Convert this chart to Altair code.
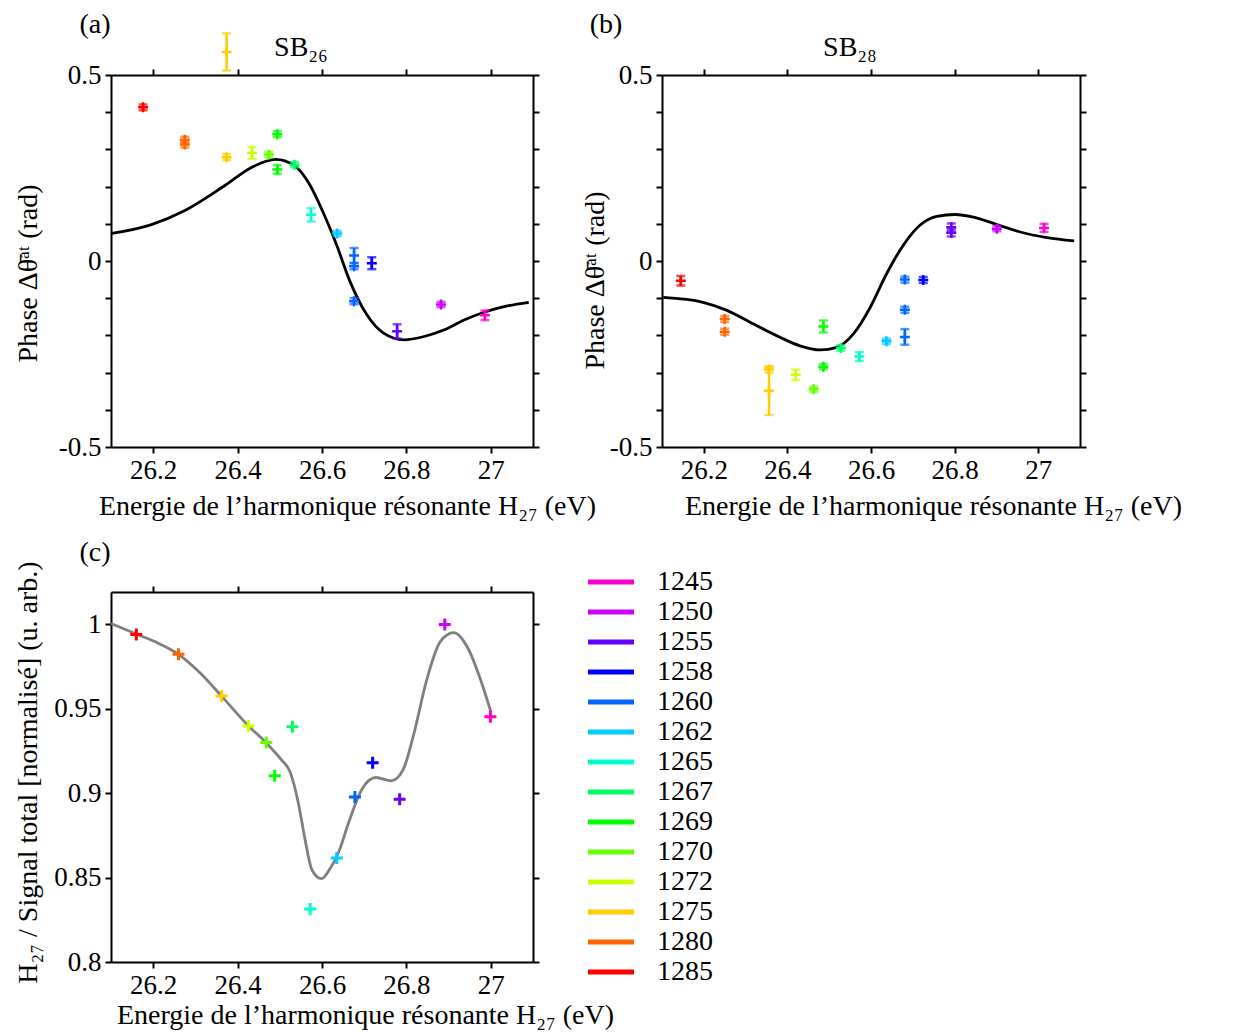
import altair as alt
import pandas as pd

FONT = "Liberation Serif"

LABELS = ["1245", "1250", "1255", "1258", "1260", "1262", "1265",
          "1267", "1269", "1270", "1272", "1275", "1280", "1285"]
COLORS = ["#ff00cc", "#cc00ff", "#6600ff", "#0000ff", "#0066ff", "#00ccff", "#00ffcc",
          "#00ff66", "#00ff00", "#66ff00", "#ccff00", "#ffcc00", "#ff6600", "#ff0000"]

# ---- panel (a): SB26 ----
a_lab = ["1285", "1280", "1280", "1275", "1275", "1272", "1270", "1269", "1269", "1267",
         "1265", "1262", "1260", "1260", "1260", "1258", "1255", "1250", "1245"]
a_E = [26.176, 26.275, 26.275, 26.374, 26.374, 26.434, 26.474, 26.494, 26.494, 26.535,
       26.574, 26.636, 26.676, 26.676, 26.676, 26.718, 26.778, 26.882, 26.986]
a_ph = [0.413, 0.326, 0.313, 0.279, 0.562, 0.290, 0.286, 0.341, 0.246, 0.259,
        0.124, 0.074, 0.015, -0.014, -0.108, -0.006, -0.189, -0.117, -0.146]
a_err = [0.008, 0.008, 0.008, 0.008, 0.050, 0.016, 0.007, 0.008, 0.012, 0.007,
         0.018, 0.007, 0.020, 0.008, 0.008, 0.016, 0.019, 0.007, 0.013]

a_curve_E = [26.102, 26.194, 26.274, 26.37, 26.434, 26.49, 26.534, 26.57, 26.601, 26.634,
             26.666, 26.706, 26.746, 26.794, 26.842, 26.89, 26.938, 26.986, 27.034, 27.09]
a_curve_ph = [0.074, 0.097, 0.135, 0.203, 0.252, 0.273, 0.257, 0.207, 0.135, 0.045,
              -0.054, -0.144, -0.194, -0.212, -0.203, -0.185, -0.158, -0.137, -0.122, -0.111]

# ---- panel (b): SB28 ----
b_lab = ["1285", "1280", "1280", "1275", "1275", "1272", "1270", "1269", "1269", "1267",
         "1265", "1262", "1260", "1260", "1260", "1258", "1255", "1255", "1250", "1245"]
b_E = [26.145, 26.25, 26.25, 26.356, 26.356, 26.42, 26.463, 26.486, 26.486, 26.528,
       26.572, 26.637, 26.681, 26.681, 26.681, 26.725, 26.792, 26.792, 26.901, 27.014]
b_ph = [-0.053, -0.156, -0.190, -0.292, -0.349, -0.306, -0.345, -0.176, -0.284, -0.234,
        -0.257, -0.216, -0.050, -0.131, -0.204, -0.051, 0.091, 0.076, 0.087, 0.089]
b_err = [0.013, 0.008, 0.008, 0.008, 0.065, 0.014, 0.007, 0.016, 0.007, 0.007,
         0.012, 0.007, 0.008, 0.008, 0.021, 0.008, 0.010, 0.010, 0.007, 0.011]

b_curve_E = [26.103, 26.198, 26.254, 26.318, 26.382, 26.43, 26.478, 26.518, 26.558, 26.598,
             26.637, 26.677, 26.717, 26.757, 26.801, 26.845, 26.901, 26.957, 27.021, 27.086]
b_curve_ph = [-0.098, -0.111, -0.132, -0.169, -0.205, -0.228, -0.239, -0.232, -0.196, -0.125,
              -0.035, 0.042, 0.096, 0.120, 0.125, 0.118, 0.098, 0.078, 0.063, 0.054]

# ---- panel (c): H27 / total signal ----
c_lab = ["1285", "1280", "1275", "1272", "1270", "1269", "1267",
         "1265", "1262", "1260", "1258", "1255", "1250", "1245"]
c_E = [26.16, 26.26, 26.362, 26.426, 26.468, 26.488, 26.53,
       26.572, 26.635, 26.678, 26.72, 26.784, 26.891, 26.999]
c_val = [0.9939, 0.9821, 0.9574, 0.9397, 0.9299, 0.9102, 0.9393,
         0.8314, 0.8615, 0.8976, 0.918, 0.8964, 0.9998, 0.9452]

c_curve_E = [26.1, 26.16, 26.208, 26.26, 26.312, 26.362, 26.426, 26.468, 26.504, 26.524,
             26.544, 26.56, 26.576, 26.599, 26.62, 26.64, 26.664, 26.696, 26.728, 26.764,
             26.792, 26.816, 26.848, 26.88, 26.912, 26.944, 26.976, 27.0]
c_curve_val = [1.0004, 0.9941, 0.9892, 0.9821, 0.9709, 0.9574, 0.9397, 0.9297, 0.9196, 0.9127,
               0.894, 0.8723, 0.8546, 0.8493, 0.8556, 0.8654, 0.8832, 0.9029, 0.9092, 0.9072,
               0.9137, 0.9334, 0.9669, 0.9895, 0.9949, 0.9866, 0.9669, 0.9482]

X_TICKS = [26.2, 26.4, 26.6, 26.8, 27.0]
Y_TICKS_AB = [-0.5, -0.4, -0.3, -0.2, -0.1, 0.0, 0.1, 0.2, 0.3, 0.4, 0.5]
Y_TICKS_C = [0.8, 0.85, 0.9, 0.95, 1.0]

X_TITLE = "Energie de l\u2019harmonique r\u00e9sonante H\u2082\u2087 (eV)"
Y_TITLE_AB = "Phase \u0394\u03b8\u0304\u1d43\u1d57 (rad)"
Y_TITLE_C = "H\u2082\u2087 / Signal total [normalis\u00e9] (u. arb.)"

PLUS = "M -1 0 L 1 0 M 0 -1 L 0 1"
LEGEND_LINE = "M -2.3 0 L 2.3 0"
W1, W2, H = 422, 418, 372
HC = 370

xs = alt.Scale(domain=[26.1, 27.1], nice=False, zero=False)
cs = alt.Scale(domain=LABELS, range=COLORS)

AXIS_STYLE = dict(domainColor="black", domainWidth=2, tickColor="black", tickWidth=2,
                  tickSize=6, labelFont=FONT, labelFontSize=27, labelColor="black",
                  titleFont=FONT, titleFontSize=28, titleColor="black",
                  titleFontWeight="normal", grid=False)

Y_LABEL_EXPR = ("abs(datum.value-0.5)<1e-6 ? '0.5' : abs(datum.value)<1e-6 ? '0' : "
                "abs(datum.value+0.5)<1e-6 ? '-0.5' : ''")


def text_layer(txt, px, py, size=28):
    return alt.Chart(pd.DataFrame({"t": [txt]})).mark_text(
        font=FONT, fontSize=size, align="center", baseline="middle", color="black"
    ).encode(text="t:N", x=alt.value(px), y=alt.value(py))


def phase_panel(lab, E, ph, err, cE, cph, letter, sb, width, ytx, yty, xtx):
    ys = alt.Scale(domain=[-0.5, 0.5], nice=False, zero=False)
    pts = pd.DataFrame({"lab": lab, "E": E, "ph": ph, "err": err})
    pts["lo"] = pts["ph"] - pts["err"]
    pts["hi"] = pts["ph"] + pts["err"]
    cur = pd.DataFrame({"E": cE, "ph": cph})

    curve = alt.Chart(cur).mark_line(color="black", strokeWidth=2.8, interpolate="monotone").encode(
        x=alt.X("E:Q", scale=xs, axis=alt.Axis(values=X_TICKS, format="~g", title=X_TITLE,
                                                titleX=xtx, titleY=59, titleAlign="center",
                                                titleBaseline="middle", labelPadding=4, **AXIS_STYLE)),
        y=alt.Y("ph:Q", scale=ys, axis=alt.Axis(values=Y_TICKS_AB, labelExpr=Y_LABEL_EXPR,
                                                 title=Y_TITLE_AB, titleX=ytx, titleY=yty,
                                                 titleAngle=270, titleAlign="center",
                                                 titleBaseline="middle", labelPadding=4,
                                                 **AXIS_STYLE)),
    )
    bars = alt.Chart(pts).mark_errorbar(ticks=True, size=9, thickness=2.5).encode(
        x=alt.X("E:Q", scale=xs, axis=None),
        y=alt.Y("lo:Q", scale=ys, axis=None),
        y2="hi:Q",
        color=alt.Color("lab:N", scale=cs, legend=None),
    )
    marks = alt.Chart(pts).mark_point(shape=PLUS, filled=False, strokeWidth=2.5, size=100, opacity=1).encode(
        x=alt.X("E:Q", scale=xs, axis=alt.Axis(orient="top", values=X_TICKS, labels=False,
                                                title=None, **AXIS_STYLE)),
        y=alt.Y("ph:Q", scale=ys, axis=alt.Axis(orient="right", values=Y_TICKS_AB, labels=False,
                                                 title=None, **AXIS_STYLE)),
        color=alt.Color("lab:N", scale=cs, legend=None),
    )
    return alt.layer(
        curve, bars, marks,
        text_layer(letter[0], letter[1], letter[2]),
        text_layer(sb[0], sb[1], sb[2]),
    ).resolve_axis(x="independent", y="independent").properties(width=width, height=H)


panel_a = phase_panel(a_lab, a_E, a_ph, a_err, a_curve_E, a_curve_ph,
                      ("(a)", -16, -50), ("SB\u2082\u2086", 190, -27), W1, -83, 198, 236)
panel_b = phase_panel(b_lab, b_E, b_ph, b_err, b_curve_E, b_curve_ph,
                      ("(b)", -56, -50), ("SB\u2082\u2088", 188, -27), W2, -67, 205, 271)

# panel (c)
ysc = alt.Scale(domain=[0.8, 1.019], nice=False, zero=False)
c_pts = pd.DataFrame({"lab": c_lab, "E": c_E, "v": c_val})
c_cur = pd.DataFrame({"E": c_curve_E, "v": c_curve_val})

c_curve = alt.Chart(c_cur).mark_line(color="#7f7f7f", strokeWidth=2.8, interpolate="monotone").encode(
    x=alt.X("E:Q", scale=xs, axis=alt.Axis(values=X_TICKS, format="~g", title=X_TITLE,
                                            titleX=254, titleY=53, titleAlign="center",
                                            titleBaseline="middle", labelPadding=4, **AXIS_STYLE)),
    y=alt.Y("v:Q", scale=ysc, axis=alt.Axis(values=Y_TICKS_C, format="~g", title=Y_TITLE_C,
                                             titleX=-83, titleY=180, titleAngle=270,
                                             titleAlign="center", titleBaseline="middle",
                                             labelPadding=4, **AXIS_STYLE)),
)
c_marks = alt.Chart(c_pts).mark_point(shape=PLUS, filled=False, strokeWidth=3, size=144, opacity=1).encode(
    x=alt.X("E:Q", scale=xs, axis=alt.Axis(orient="top", values=X_TICKS, labels=False,
                                            title=None, **AXIS_STYLE)),
    y=alt.Y("v:Q", scale=ysc, axis=alt.Axis(orient="right", values=Y_TICKS_C, labels=False,
                                             title=None, **AXIS_STYLE)),
    color=alt.Color("lab:N", scale=cs, legend=alt.Legend(
        orient="none", legendX=486, legendY=-24, title=None, symbolType=LEGEND_LINE,
        symbolSize=400, symbolStrokeWidth=5, labelFont=FONT, labelFontSize=28,
        labelColor="black", labelOffset=32, rowPadding=2, labelLimit=200)),
)
panel_c = alt.layer(c_curve, c_marks, text_layer("(c)", -16, -39)).resolve_axis(
    x="independent", y="independent").properties(width=W1, height=HC)

chart = alt.concat(
    panel_a, panel_b, panel_c, columns=2,
    spacing={"row": 145, "column": 129}, bounds="flush"
).resolve_scale(
    color="independent"
).properties(
    padding={"left": 5, "top": 2, "right": 5, "bottom": 5}
).configure_view(stroke="transparent").configure(background="white")

chart.save("out.html", embed_options={"renderer": "svg", "actions": False})
